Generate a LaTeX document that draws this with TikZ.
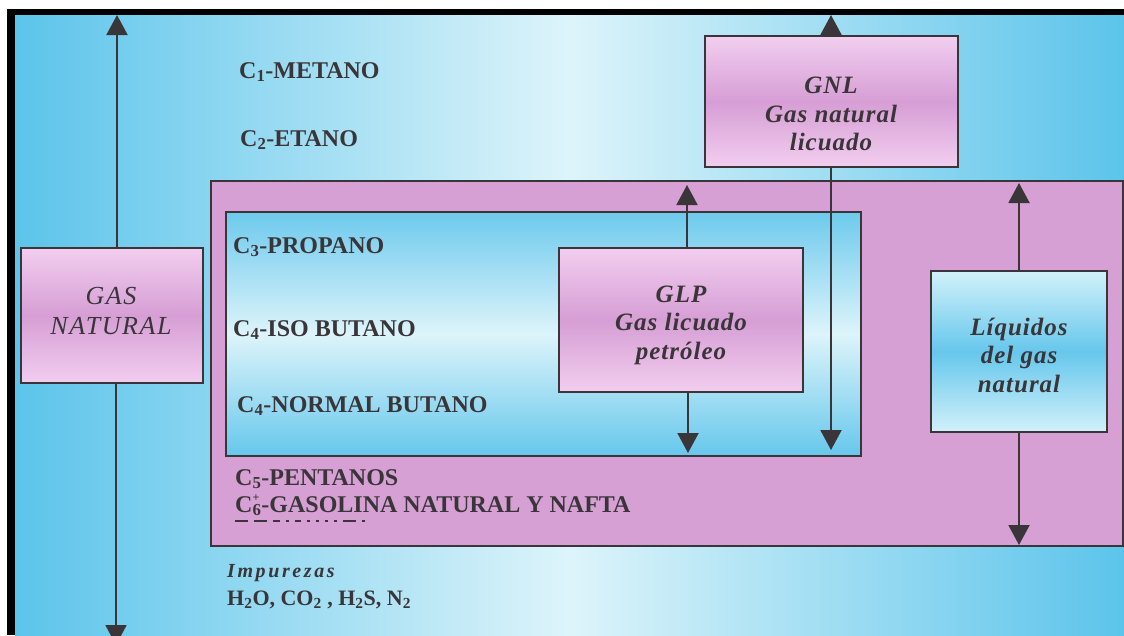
\documentclass[tikz,border=0pt]{standalone}
\usepackage{fontspec}
\setmainfont{Liberation Serif}
\usetikzlibrary{arrows.meta}
\definecolor{ink}{HTML}{3A3538}
\definecolor{skyA}{HTML}{5CC4EB}
\definecolor{skyB}{HTML}{DDF4FA}
\definecolor{pinkA}{HTML}{D6A0D5}
\definecolor{pinkL}{HTML}{F2CEEF}
\definecolor{pinkM}{HTML}{D69ED5}
\definecolor{blueL}{HTML}{D2F1FA}
\definecolor{blueM}{HTML}{66C7EC}
\newcommand\sbs[1]{\textsubscript{#1}}
\newcommand\plusmark{\rlap{\raisebox{11pt}[0pt][0pt]{\fontsize{12}{12}\selectfont +}}}
\begin{document}
\begin{tikzpicture}[x=1pt,y=-1pt,
  frameline/.style={draw=ink,line width=2.2pt},
  boxbase/.style={frameline,rectangle,inner sep=0pt,anchor=north west},
  pinkbox/.style={boxbase,top color=pinkL,bottom color=pinkL,middle color=pinkM},
  bluebox/.style={boxbase,top color=blueL,bottom color=blueL,middle color=blueM},
  arr/.style={draw=ink,line width=2pt,-{Triangle[width=21pt,length=20pt]}},
  comp/.style={anchor=base west,inner sep=0pt,text=ink,text height=17pt,text depth=5pt,font=\fontsize{24}{28}\selectfont\bfseries},
  boxtxt/.style={inner sep=0pt,text=ink,align=center,font=\fontsize{25}{28.5}\selectfont\bfseries\itshape\addfontfeatures{LetterSpace=4}}
]
\useasboundingbox (0,0) rectangle (1124,635);
\clip (0,0) rectangle (1124,635);
% background
\fill[white] (0,0) rectangle (1124,635);
\fill[black] (7,9) rectangle (1124,635);
\fill[left color=skyA,right color=skyA,middle color=skyB] (15,15) rectangle (1124,635);

% container regions
\node[boxbase,fill=pinkA,minimum width=912pt,minimum height=365pt] (ngl) at (210,180) {};
\node[boxbase,top color=blueM!95!white,bottom color=blueM,middle color=skyB,minimum width=635pt,minimum height=244pt] (lpgzone) at (225,211) {};

% component labels
\node[comp] (c1) at (239,78) {C\sbs{1}-METANO};
\node[comp] (c2) at (240,146) {C\sbs{2}-ETANO};
\node[comp] (c3) at (233,253) {C\sbs{3}-PROPANO};
\node[comp] (c4a) at (233,336) {C\sbs{4}-ISO BUTANO};
\node[comp] (c4b) at (237,412) {C\sbs{4}-NORMAL BUTANO};
\node[comp] (c5) at (235,485) {C\sbs{5}-PENTANOS};
\node[comp] (c6) at (235,512) {C\plusmark\sbs{6}-GASOLINA NATURAL Y NAFTA};
\coordinate (dA) at (235,521);
\coordinate (dB) at (365,521);
\draw[ink,line width=1.3pt,dash pattern=on 13pt off 6pt on 13pt off 6pt on 7pt off 6pt on 3pt off 6pt on 6pt off 6pt on 3pt off 6pt on 3pt off 6pt on 3pt off 6pt on 3pt off 6pt] (dA) -- (dB);
\node[anchor=base west,inner sep=0pt,text=ink,font=\fontsize{20}{22}\selectfont\bfseries\itshape\addfontfeatures{LetterSpace=13}] (imp) at (227,577) {Impurezas};
\node[anchor=base west,inner sep=0pt,text=ink,font=\fontsize{22}{26}\selectfont\bfseries] (impl) at (227,605) {H\sbs{2}O, CO\sbs{2} , H\sbs{2}S, N\sbs{2}};

% boxes
\node[pinkbox,minimum width=182pt,minimum height=135pt] (gas) at (20,247) {};
\node[pinkbox,minimum width=253pt,minimum height=131pt] (gnl) at (704,35) {};
\node[pinkbox,minimum width=244pt,minimum height=144pt] (glp) at (558,247) {};
\node[bluebox,minimum width=176pt,minimum height=161pt] (liq) at (930,270) {};

\node[inner sep=0pt,text=ink,align=center,font=\fontsize{26}{30}\selectfont\itshape\addfontfeatures{LetterSpace=6}] (gastxt) at (111,311) {GAS\\NATURAL};
\node[boxtxt] (gnltxt) at (831,114) {GNL\\Gas natural\\licuado};
\node[boxtxt] (glptxt) at (681,325) {GLP\\Gas licuado\\petróleo};
\node[boxtxt] (liqtxt) at (1019,355) {Líquidos\\del gas\\natural};

% arrow tips
\coordinate (gasup) at (117,15);
\coordinate (gasdn) at (116,645);
\coordinate (gnlup) at (831,15);
\coordinate (gnldn) at (831,450);
\coordinate (glpup) at (687,185);
\coordinate (glpdn) at (688,453);
\coordinate (liqup) at (1019,183);
\coordinate (liqdn) at (1019,545);

\draw[arr] (gasup |- gas.north) -- (gasup);
\draw[arr] (gasdn |- gas.south) -- (gasdn);
\draw[arr] (gnlup |- gnl.north) -- (gnlup);
\draw[arr] (gnldn |- gnl.south) -- (gnldn);
\draw[arr] (glpup |- glp.north) -- (glpup);
\draw[arr] (glpdn |- glp.south) -- (glpdn);
\draw[arr] (liqup |- liq.north) -- (liqup);
\draw[arr] (liqdn |- liq.south) -- (liqdn);
\end{tikzpicture}
\end{document}
